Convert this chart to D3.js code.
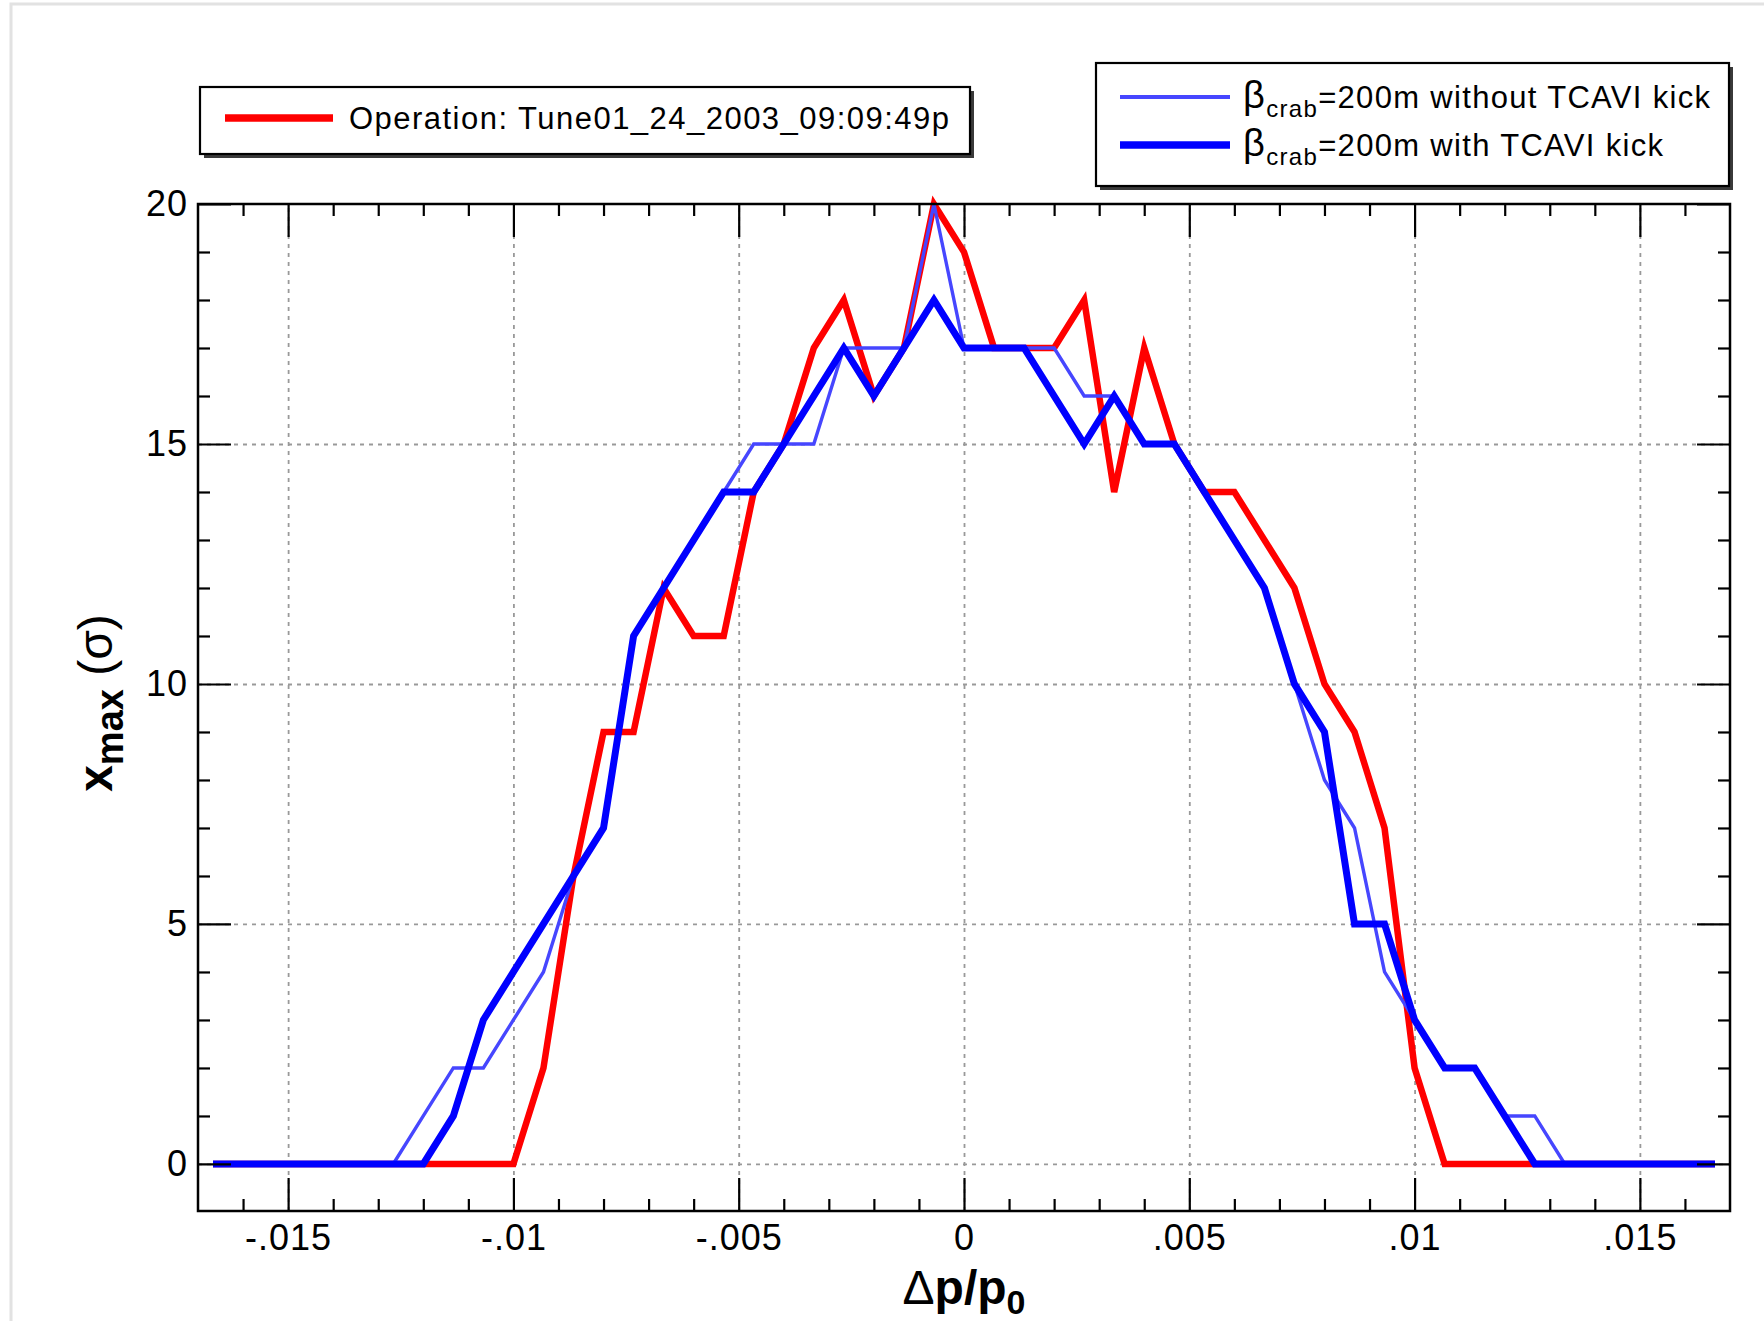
<!DOCTYPE html>
<html>
<head>
<meta charset="utf-8">
<script src="https://cdn.jsdelivr.net/npm/d3@7"></script>
<style>
  body { margin: 0; background: #fff; }
  svg { display: block; font-family: "Liberation Sans", Arial, sans-serif; }
</style>
</head>
<body>
<div id="chart"></div>
<script>
// dp/p0 sample points
const dp = [
  -0.016667, -0.016, -0.015333, -0.014667, -0.014, -0.013333, -0.012667, -0.012,
  -0.011333, -0.010667, -0.01, -0.009333, -0.008667, -0.008, -0.007333, -0.006667,
  -0.006, -0.005333, -0.004667, -0.004, -0.003333, -0.002667, -0.002, -0.001333,
  -0.000667, 0, 0.000667, 0.001333, 0.002, 0.002667, 0.003333, 0.004,
  0.004667, 0.005333, 0.006, 0.006667, 0.007333, 0.008, 0.008667, 0.009333,
  0.01, 0.010667, 0.011333, 0.012, 0.012667, 0.013333, 0.014, 0.014667,
  0.015333, 0.016, 0.016667
];

// x_max (sigma) per series
const operation = [
  0, 0, 0, 0, 0, 0, 0, 0, 0, 0, 0,
  2, 6, 9, 9, 12, 11, 11, 14, 15, 17, 18, 16, 17, 20, 19,
  17, 17, 17, 18, 14, 17, 15, 14, 14, 13, 12, 10, 9, 7, 2,
  0, 0, 0, 0, 0, 0, 0, 0, 0, 0
];
const withoutKick = [
  0, 0, 0, 0, 0, 0, 0,
  1, 2, 2, 3, 4, 6, 7, 11, 12, 13, 14, 15, 15, 15, 17, 17, 17, 20, 17,
  17, 17, 17, 16, 16, 15, 15, 14, 13, 12, 10, 8, 7, 4, 3, 2, 2, 1, 1,
  0, 0, 0, 0, 0, 0
];
const withKick = [
  0, 0, 0, 0, 0, 0, 0, 0,
  1, 3, 4, 5, 6, 7, 11, 12, 13, 14, 14, 15, 16, 17, 16, 17, 18, 17,
  17, 17, 16, 15, 16, 15, 15, 14, 13, 12, 10, 9, 5, 5, 3, 2, 2, 1,
  0, 0, 0, 0, 0, 0, 0
];

const xMajor = [-0.015, -0.01, -0.005, 0, 0.005, 0.01, 0.015];
const xTickLabels = ["-.015", "-.01", "-.005", "0", ".005", ".01", ".015"];
const xMinor = [-0.016, -0.014, -0.013, -0.012, -0.011, -0.009, -0.008, -0.007, -0.006,
  -0.004, -0.003, -0.002, -0.001, 0.001, 0.002, 0.003, 0.004, 0.006, 0.007, 0.008,
  0.009, 0.011, 0.012, 0.013, 0.014, 0.016];
const yMajor = [0, 5, 10, 15, 20];
const yMinor = [1, 2, 3, 4, 6, 7, 8, 9, 11, 12, 13, 14, 16, 17, 18, 19];

const W = 1764, H = 1321;
const pLeft = 198, pRight = 1730, pTop = 204, pBottom = 1211;

const svg = d3.select("#chart").append("svg")
  .attr("width", W).attr("height", H);

// faint outer frame of the original picture
svg.append("path")
  .attr("d", `M11,${H} V4 H${W}`)
  .attr("fill", "none").attr("stroke", "#e2e2e2").attr("stroke-width", 3);

const x = d3.scaleLinear().domain([-0.017, 0.017]).range([pLeft, pRight]);
const y = d3.scaleLinear().domain([-0.98, 20]).range([pBottom, pTop]);

const plotW = pRight - pLeft, plotH = pBottom - pTop;

// grid
const gridStyle = g => {
  g.select(".domain").remove();
  g.selectAll("text").remove();
  g.selectAll("line")
    .attr("stroke", "#999").attr("stroke-width", 1.8)
    .attr("stroke-dasharray", "4,5");
};
svg.append("g")
  .attr("transform", `translate(0,${pBottom})`)
  .call(d3.axisBottom(x).tickValues(xMajor).tickSize(-plotH))
  .call(gridStyle);
svg.append("g")
  .attr("transform", `translate(${pLeft},0)`)
  .call(d3.axisLeft(y).tickValues([0, 5, 10, 15]).tickSize(-plotW))
  .call(gridStyle);

// lines
const line = d3.line().x((d, i) => x(dp[i])).y(d => y(d));
const series = [
  { values: operation, color: "#ff0000", width: 6.5 },
  { values: withoutKick, color: "#4646ff", width: 3.4 },
  { values: withKick, color: "#0000ff", width: 7 }
];
svg.selectAll("path.series")
  .data(series)
  .enter().append("path")
  .attr("class", "series")
  .attr("d", d => line(d.values))
  .attr("fill", "none")
  .attr("stroke", d => d.color)
  .attr("stroke-width", d => d.width);

// axes with inward ticks
const tickStyle = g => {
  g.select(".domain").remove();
  g.selectAll("line").attr("stroke", "#000").attr("stroke-width", 2.2);
  g.selectAll("text")
    .attr("font-size", 36).attr("fill", "#000")
    .attr("font-family", "'Liberation Sans', Arial, sans-serif")
    .attr("letter-spacing", 1);
};
const noLabels = g => g.selectAll("text").remove();

svg.append("g")
  .attr("transform", `translate(0,${pBottom})`)
  .call(d3.axisBottom(x).tickValues(xMajor).tickSize(-33).tickPadding(13)
    .tickFormat((d, i) => xTickLabels[i]))
  .call(tickStyle);
svg.append("g")
  .attr("transform", `translate(0,${pBottom})`)
  .call(d3.axisBottom(x).tickValues(xMinor).tickSize(-12))
  .call(tickStyle).call(noLabels);
svg.append("g")
  .attr("transform", `translate(0,${pTop})`)
  .call(d3.axisTop(x).tickValues(xMajor).tickSize(-33))
  .call(tickStyle).call(noLabels);
svg.append("g")
  .attr("transform", `translate(0,${pTop})`)
  .call(d3.axisTop(x).tickValues(xMinor).tickSize(-12))
  .call(tickStyle).call(noLabels);

svg.append("g")
  .attr("transform", `translate(${pLeft},0)`)
  .call(d3.axisLeft(y).tickValues(yMajor).tickSize(-33).tickPadding(10)
    .tickFormat(d3.format("d")))
  .call(tickStyle);
svg.append("g")
  .attr("transform", `translate(${pLeft},0)`)
  .call(d3.axisLeft(y).tickValues(yMinor).tickSize(-12))
  .call(tickStyle).call(noLabels);
svg.append("g")
  .attr("transform", `translate(${pRight},0)`)
  .call(d3.axisRight(y).tickValues(yMajor).tickSize(-33))
  .call(tickStyle).call(noLabels);
svg.append("g")
  .attr("transform", `translate(${pRight},0)`)
  .call(d3.axisRight(y).tickValues(yMinor).tickSize(-12))
  .call(tickStyle).call(noLabels);

// frame
svg.append("rect")
  .attr("x", pLeft).attr("y", pTop)
  .attr("width", plotW).attr("height", plotH)
  .attr("fill", "none").attr("stroke", "#000").attr("stroke-width", 2.5);

// axis titles
const xt = svg.append("text")
  .attr("x", (pLeft + pRight) / 2).attr("y", 1304)
  .attr("text-anchor", "middle").attr("font-size", 48).attr("font-weight", "bold");
xt.append("tspan").attr("font-weight", "normal").text("Δ");
xt.append("tspan").text("p/p");
xt.append("tspan").attr("font-size", 34).attr("dy", 10).text("0");

const yt = svg.append("text")
  .attr("transform", "translate(112,703) rotate(-90)")
  .attr("text-anchor", "middle").attr("font-size", 48);
yt.append("tspan").attr("font-weight", "bold").text("x");
yt.append("tspan").attr("font-weight", "bold").attr("font-size", 38).attr("dy", 11).text("max");
yt.append("tspan").attr("dy", -11).text(" (σ)");

// legend boxes
function legendBox(bx, by, bw, bh) {
  svg.append("rect")
    .attr("x", bx + 4).attr("y", by + 4).attr("width", bw).attr("height", bh)
    .attr("fill", "#3a3a3a");
  svg.append("rect")
    .attr("x", bx).attr("y", by).attr("width", bw).attr("height", bh)
    .attr("fill", "#fff").attr("stroke", "#000").attr("stroke-width", 2.2);
}

legendBox(200, 87, 770, 67);
svg.append("line")
  .attr("x1", 225).attr("x2", 333).attr("y1", 118).attr("y2", 118)
  .attr("stroke", series[0].color).attr("stroke-width", 7.5);
svg.append("text")
  .attr("x", 349).attr("y", 129)
  .attr("font-size", 31)
  .attr("textLength", 600).attr("lengthAdjust", "spacing")
  .text("Operation: Tune01_24_2003_09:09:49p");

legendBox(1096, 63, 633, 123);
const legendRows = [
  { s: series[1], label: "=200m without TCAVI kick", y: 97, len: 467, lw: 4 },
  { s: series[2], label: "=200m with TCAVI kick", y: 145, len: 420, lw: 7.5 }
];
legendRows.forEach(r => {
  svg.append("line")
    .attr("x1", 1120).attr("x2", 1230).attr("y1", r.y).attr("y2", r.y)
    .attr("stroke", r.s.color).attr("stroke-width", r.lw);
  const t = svg.append("text")
    .attr("x", 1243).attr("y", r.y + 11)
    .attr("font-size", 31)
    .attr("textLength", r.len).attr("lengthAdjust", "spacing");
  t.append("tspan").attr("font-size", 38).text("β");
  t.append("tspan").attr("font-size", 24).attr("dy", 9).text("crab");
  t.append("tspan").attr("dy", -9).text(r.label);
});
</script>
</body>
</html>
